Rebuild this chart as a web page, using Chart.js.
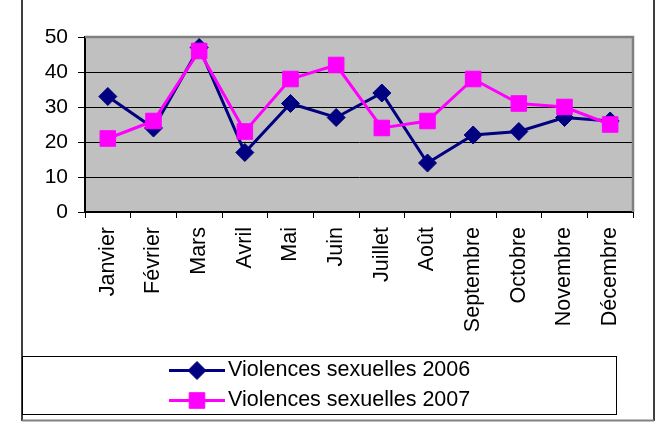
<!DOCTYPE html>
<html><head><meta charset="utf-8">
<script src="https://cdn.jsdelivr.net/npm/chart.js@4"></script>
<style>html,body{margin:0;padding:0;background:#fff}#wrap{width:657px;height:422px;position:relative}</style>
</head><body><div id="wrap"><canvas id="c" width="657" height="422"></canvas></div>
<script>
const categories = ['Janvier','Février','Mars','Avril','Mai','Juin','Juillet','Août','Septembre','Octobre','Novembre','Décembre'];
const violences2006 = [33,24,47,17,31,27,34,14,22,23,27,26];
const violences2007 = [21,26,46,23,38,42,24,26,38,31,30,25];
const seriesNames = ['Violences sexuelles 2006','Violences sexuelles 2007'];
const yTickValues = [0,10,20,30,40,50];

const FONT = "'Liberation Sans', Arial, sans-serif";
const NAVY = '#000080', MAGENTA = '#FF00FF';

const framePlugin = {
  id: 'frame',
  beforeDraw(chart) {
    const {ctx, chartArea: a} = chart;
    ctx.save();
    ctx.fillStyle = '#C0C0C0';
    ctx.fillRect(a.left, a.top, a.right - a.left, a.bottom - a.top);
    ctx.restore();
  },
  beforeDatasetsDraw(chart) {
    const {ctx, chartArea: a} = chart;
    ctx.save();
    ctx.strokeStyle = '#808080';
    ctx.lineWidth = 2.5;
    ctx.beginPath();
    ctx.moveTo(a.left, a.top);
    ctx.lineTo(a.right, a.top);
    ctx.lineTo(a.right, a.bottom);
    ctx.stroke();
    ctx.restore();
  },
  afterDraw(chart) {
    const ctx = chart.ctx;
    ctx.save();
    // outer frame
    ctx.strokeStyle = '#000';
    ctx.lineWidth = 1.5;
    ctx.beginPath();
    ctx.moveTo(22, 0); ctx.lineTo(22, 421);
    ctx.moveTo(654, 0); ctx.lineTo(654, 421);
    ctx.stroke();
    ctx.strokeStyle = '#808080';
    ctx.lineWidth = 2;
    ctx.beginPath();
    ctx.moveTo(22, 420.5); ctx.lineTo(654, 420.5);
    ctx.stroke();
    // legend box
    ctx.strokeStyle = '#000';
    ctx.lineWidth = 1;
    ctx.strokeRect(22.5, 356.5, 594, 58);
    // legend items
    const rows = [370.5, 400.5];
    chart.data.datasets.forEach((ds, i) => {
      const y = rows[i];
      ctx.strokeStyle = ds.borderColor;
      ctx.lineWidth = ds.borderWidth;
      ctx.beginPath();
      ctx.moveTo(169, y); ctx.lineTo(225, y);
      ctx.stroke();
      ctx.fillStyle = ds.backgroundColor;
      ctx.strokeStyle = ds.borderColor;
      ctx.lineWidth = 1;
      Chart.helpers.drawPoint(ctx, {pointStyle: ds.pointStyle, rotation: 0, borderWidth: 1, radius: ds.pointRadius}, 197, y);
      ctx.fillStyle = '#000';
      ctx.font = '21.5px ' + FONT;
      ctx.textBaseline = 'middle';
      ctx.textAlign = 'left';
      ctx.fillText(ds.label, 228, y);
    });
    ctx.restore();
  }
};

const chart = new Chart(document.getElementById('c'), {
  type: 'line',
  data: {
    labels: categories,
    datasets: [
      {
        label: seriesNames[0], data: violences2006,
        borderColor: NAVY, backgroundColor: NAVY, borderWidth: 3,
        pointStyle: 'rectRot', pointRadius: 9, pointBackgroundColor: NAVY, pointBorderColor: NAVY,
        pointBorderWidth: 1, tension: 0, order: 1, clip: false
      },
      {
        label: seriesNames[1], data: violences2007,
        borderColor: MAGENTA, backgroundColor: MAGENTA, borderWidth: 3,
        pointStyle: 'rect', pointRadius: 11, pointBackgroundColor: MAGENTA, pointBorderColor: MAGENTA,
        pointBorderWidth: 1, tension: 0, order: 0, clip: false
      }
    ]
  },
  options: {
    responsive: false,
    animation: false,
    devicePixelRatio: 1,
    layout: {padding: {left: 0, top: 37, right: 24, bottom: 82}},
    plugins: {legend: {display: false}, tooltip: {enabled: false}},
    scales: {
      x: {
        offset: true,
        grid: {display: true, offset: true, drawOnChartArea: false, drawTicks: true, tickLength: 6, color: '#000', lineWidth: 1},
        border: {display: true, color: '#000', width: 2},
        ticks: {minRotation: 90, maxRotation: 90, autoSkip: false, padding: 9, color: '#000', font: {family: FONT, size: 21.5}},
        afterFit(s) { s.height = 128; }
      },
      y: {
        min: 0, max: 50,
        afterBuildTicks(s) { s.ticks = yTickValues.map(v => ({value: v})); },
        grid: {
          color: c => (c.tick && c.tick.value === 50) ? '#808080' : '#000',
          tickColor: '#000', lineWidth: 1, drawTicks: true, tickLength: 7
        },
        border: {display: true, color: '#000', width: 2},
        ticks: {padding: 10, color: '#000', font: {family: FONT, size: 21}},
        afterFit(s) { s.width = 85; }
      }
    }
  },
  plugins: [framePlugin]
});
</script></body></html>
